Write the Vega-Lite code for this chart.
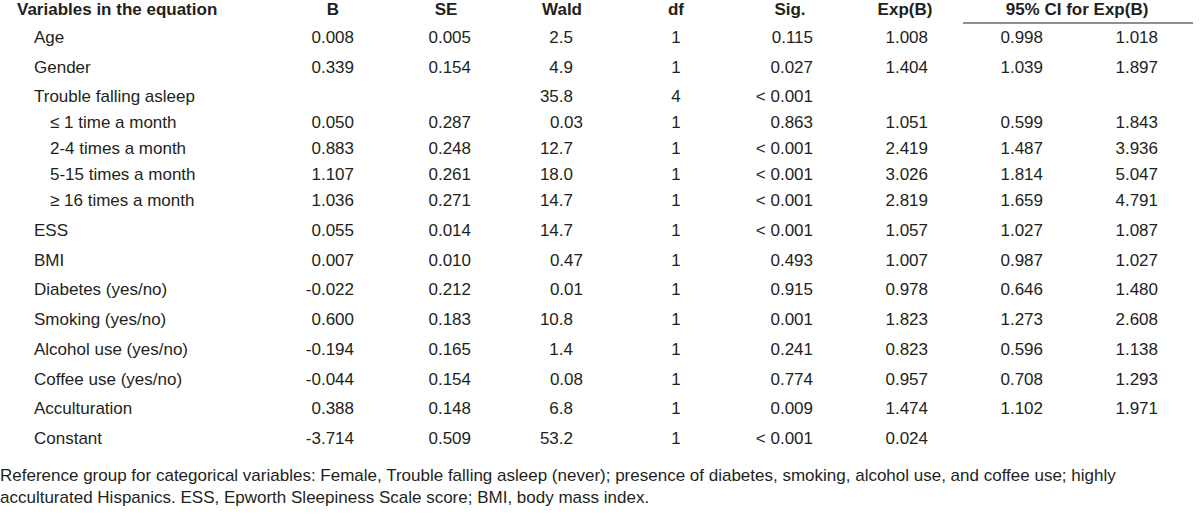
{
  "$schema": "https://vega.github.io/schema/vega-lite/v6.json",
  "width": 1200,
  "height": 515,
  "autosize": {"type": "none"},
  "padding": 0,
  "background": "white",
  "config": {
    "view": {"stroke": null},
    "axis": {"disable": true},
    "text": {"font": "Liberation Sans, Arial, Helvetica, sans-serif", "fontSize": 17, "color": "#231f20"}
  },
  "datasets": {
    "table": [
      {"row": 1, "level": 1, "variable": "Age", "B": "0.008", "SE": "0.005", "Wald": "2.5", "df": "1", "Sig": "0.115", "ExpB": "1.008", "CIlow": "0.998", "CIhigh": "1.018"},
      {"row": 2, "level": 1, "variable": "Gender", "B": "0.339", "SE": "0.154", "Wald": "4.9", "df": "1", "Sig": "0.027", "ExpB": "1.404", "CIlow": "1.039", "CIhigh": "1.897"},
      {"row": 3, "level": 1, "variable": "Trouble falling asleep", "B": "", "SE": "", "Wald": "35.8", "df": "4", "Sig": "< 0.001", "ExpB": "", "CIlow": "", "CIhigh": ""},
      {"row": 4, "level": 2, "variable": "≤ 1 time a month", "B": "0.050", "SE": "0.287", "Wald": "0.03", "df": "1", "Sig": "0.863", "ExpB": "1.051", "CIlow": "0.599", "CIhigh": "1.843"},
      {"row": 5, "level": 2, "variable": "2-4 times a month", "B": "0.883", "SE": "0.248", "Wald": "12.7", "df": "1", "Sig": "< 0.001", "ExpB": "2.419", "CIlow": "1.487", "CIhigh": "3.936"},
      {"row": 6, "level": 2, "variable": "5-15 times a month", "B": "1.107", "SE": "0.261", "Wald": "18.0", "df": "1", "Sig": "< 0.001", "ExpB": "3.026", "CIlow": "1.814", "CIhigh": "5.047"},
      {"row": 7, "level": 2, "variable": "≥ 16 times a month", "B": "1.036", "SE": "0.271", "Wald": "14.7", "df": "1", "Sig": "< 0.001", "ExpB": "2.819", "CIlow": "1.659", "CIhigh": "4.791"},
      {"row": 8, "level": 1, "variable": "ESS", "B": "0.055", "SE": "0.014", "Wald": "14.7", "df": "1", "Sig": "< 0.001", "ExpB": "1.057", "CIlow": "1.027", "CIhigh": "1.087"},
      {"row": 9, "level": 1, "variable": "BMI", "B": "0.007", "SE": "0.010", "Wald": "0.47", "df": "1", "Sig": "0.493", "ExpB": "1.007", "CIlow": "0.987", "CIhigh": "1.027"},
      {"row": 10, "level": 1, "variable": "Diabetes (yes/no)", "B": "-0.022", "SE": "0.212", "Wald": "0.01", "df": "1", "Sig": "0.915", "ExpB": "0.978", "CIlow": "0.646", "CIhigh": "1.480"},
      {"row": 11, "level": 1, "variable": "Smoking (yes/no)", "B": "0.600", "SE": "0.183", "Wald": "10.8", "df": "1", "Sig": "0.001", "ExpB": "1.823", "CIlow": "1.273", "CIhigh": "2.608"},
      {"row": 12, "level": 1, "variable": "Alcohol use (yes/no)", "B": "-0.194", "SE": "0.165", "Wald": "1.4", "df": "1", "Sig": "0.241", "ExpB": "0.823", "CIlow": "0.596", "CIhigh": "1.138"},
      {"row": 13, "level": 1, "variable": "Coffee use (yes/no)", "B": "-0.044", "SE": "0.154", "Wald": "0.08", "df": "1", "Sig": "0.774", "ExpB": "0.957", "CIlow": "0.708", "CIhigh": "1.293"},
      {"row": 14, "level": 1, "variable": "Acculturation", "B": "0.388", "SE": "0.148", "Wald": "6.8", "df": "1", "Sig": "0.009", "ExpB": "1.474", "CIlow": "1.102", "CIhigh": "1.971"},
      {"row": 15, "level": 1, "variable": "Constant", "B": "-3.714", "SE": "0.509", "Wald": "53.2", "df": "1", "Sig": "< 0.001", "ExpB": "0.024", "CIlow": "", "CIhigh": ""}
    ],
    "headers": [
      {"var": "Variables in the equation", "B": "B", "SE": "SE", "Wald": "Wald", "df": "df", "Sig": "Sig.", "ExpB": "Exp(B)", "CI": "95% CI for Exp(B)"}
    ],
    "notes": [
      {"line": 16, "text": "Reference group for categorical variables: Female, Trouble falling asleep (never); presence of diabetes, smoking, alcohol use, and coffee use; highly"},
      {"line": 17, "text": "acculturated Hispanics. ESS, Epworth Sleepiness Scale score; BMI, body mass index."}
    ]
  },
  "layer": [
    {
      "data": {"name": "headers"},
      "mark": {"type": "text", "align": "left", "fontWeight": "bold"},
      "encoding": {
        "x": {"datum": 1, "type": "quantitative", "scale": {"domain": [0,1,2,3,4,5,6,7,8,9,10,11,12,13,14,15,16,17,18,19,20], "range": [0,17,34,50,333,354,446,471,562,573,583,676,790,813,905,928,963,1043,1077,1158,1193], "zero": false, "nice": false}},
        "y": {"datum": 0, "type": "quantitative", "scale": {"domain": [0,0.5,1,3,7,8,15,16,17], "range": [10,23,38,97,201,231,439,476,498], "zero": false, "nice": false}},
        "text": {"field": "var"}
      }
    },
    {
      "data": {"name": "headers"},
      "mark": {"type": "text", "align": "center", "fontWeight": "bold"},
      "encoding": {"x": {"datum": 4, "type": "quantitative"}, "y": {"datum": 0, "type": "quantitative"}, "text": {"field": "B"}}
    },
    {
      "data": {"name": "headers"},
      "mark": {"type": "text", "align": "center", "fontWeight": "bold"},
      "encoding": {"x": {"datum": 6, "type": "quantitative"}, "y": {"datum": 0, "type": "quantitative"}, "text": {"field": "SE"}}
    },
    {
      "data": {"name": "headers"},
      "mark": {"type": "text", "align": "center", "fontWeight": "bold"},
      "encoding": {"x": {"datum": 8, "type": "quantitative"}, "y": {"datum": 0, "type": "quantitative"}, "text": {"field": "Wald"}}
    },
    {
      "data": {"name": "headers"},
      "mark": {"type": "text", "align": "center", "fontWeight": "bold"},
      "encoding": {"x": {"datum": 11, "type": "quantitative"}, "y": {"datum": 0, "type": "quantitative"}, "text": {"field": "df"}}
    },
    {
      "data": {"name": "headers"},
      "mark": {"type": "text", "align": "center", "fontWeight": "bold"},
      "encoding": {"x": {"datum": 12, "type": "quantitative"}, "y": {"datum": 0, "type": "quantitative"}, "text": {"field": "Sig"}}
    },
    {
      "data": {"name": "headers"},
      "mark": {"type": "text", "align": "center", "fontWeight": "bold"},
      "encoding": {"x": {"datum": 14, "type": "quantitative"}, "y": {"datum": 0, "type": "quantitative"}, "text": {"field": "ExpB"}}
    },
    {
      "data": {"name": "headers"},
      "mark": {"type": "text", "align": "center", "fontWeight": "bold"},
      "encoding": {"x": {"datum": 18, "type": "quantitative"}, "y": {"datum": 0, "type": "quantitative"}, "text": {"field": "CI"}}
    },
    {
      "data": {"name": "headers"},
      "mark": {"type": "rule", "color": "#231f20", "strokeWidth": 1.2},
      "encoding": {"x": {"datum": 16, "type": "quantitative"}, "x2": {"datum": 20}, "y": {"datum": 0.5, "type": "quantitative"}}
    },
    {
      "data": {"name": "table"},
      "transform": [{"filter": "datum.level == 1"}],
      "mark": {"type": "text", "align": "left"},
      "encoding": {"x": {"datum": 2, "type": "quantitative"}, "y": {"field": "row", "type": "quantitative"}, "text": {"field": "variable"}}
    },
    {
      "data": {"name": "table"},
      "transform": [{"filter": "datum.level == 2"}],
      "mark": {"type": "text", "align": "left"},
      "encoding": {"x": {"datum": 3, "type": "quantitative"}, "y": {"field": "row", "type": "quantitative"}, "text": {"field": "variable"}}
    },
    {
      "data": {"name": "table"},
      "mark": {"type": "text", "align": "right"},
      "encoding": {"x": {"datum": 5, "type": "quantitative"}, "y": {"field": "row", "type": "quantitative"}, "text": {"field": "B"}}
    },
    {
      "data": {"name": "table"},
      "mark": {"type": "text", "align": "right"},
      "encoding": {"x": {"datum": 7, "type": "quantitative"}, "y": {"field": "row", "type": "quantitative"}, "text": {"field": "SE"}}
    },
    {
      "data": {"name": "table"},
      "transform": [{"filter": "toNumber(datum.Wald) >= 1"}],
      "mark": {"type": "text", "align": "right"},
      "encoding": {"x": {"datum": 9, "type": "quantitative"}, "y": {"field": "row", "type": "quantitative"}, "text": {"field": "Wald"}}
    },
    {
      "data": {"name": "table"},
      "transform": [{"filter": "toNumber(datum.Wald) < 1"}],
      "mark": {"type": "text", "align": "right"},
      "encoding": {"x": {"datum": 10, "type": "quantitative"}, "y": {"field": "row", "type": "quantitative"}, "text": {"field": "Wald"}}
    },
    {
      "data": {"name": "table"},
      "mark": {"type": "text", "align": "center"},
      "encoding": {"x": {"datum": 11, "type": "quantitative"}, "y": {"field": "row", "type": "quantitative"}, "text": {"field": "df"}}
    },
    {
      "data": {"name": "table"},
      "mark": {"type": "text", "align": "right"},
      "encoding": {"x": {"datum": 13, "type": "quantitative"}, "y": {"field": "row", "type": "quantitative"}, "text": {"field": "Sig"}}
    },
    {
      "data": {"name": "table"},
      "mark": {"type": "text", "align": "right"},
      "encoding": {"x": {"datum": 15, "type": "quantitative"}, "y": {"field": "row", "type": "quantitative"}, "text": {"field": "ExpB"}}
    },
    {
      "data": {"name": "table"},
      "mark": {"type": "text", "align": "right"},
      "encoding": {"x": {"datum": 17, "type": "quantitative"}, "y": {"field": "row", "type": "quantitative"}, "text": {"field": "CIlow"}}
    },
    {
      "data": {"name": "table"},
      "mark": {"type": "text", "align": "right"},
      "encoding": {"x": {"datum": 19, "type": "quantitative"}, "y": {"field": "row", "type": "quantitative"}, "text": {"field": "CIhigh"}}
    },
    {
      "data": {"name": "notes"},
      "mark": {"type": "text", "align": "left"},
      "encoding": {"x": {"datum": 0, "type": "quantitative"}, "y": {"field": "line", "type": "quantitative"}, "text": {"field": "text"}}
    }
  ]
}
